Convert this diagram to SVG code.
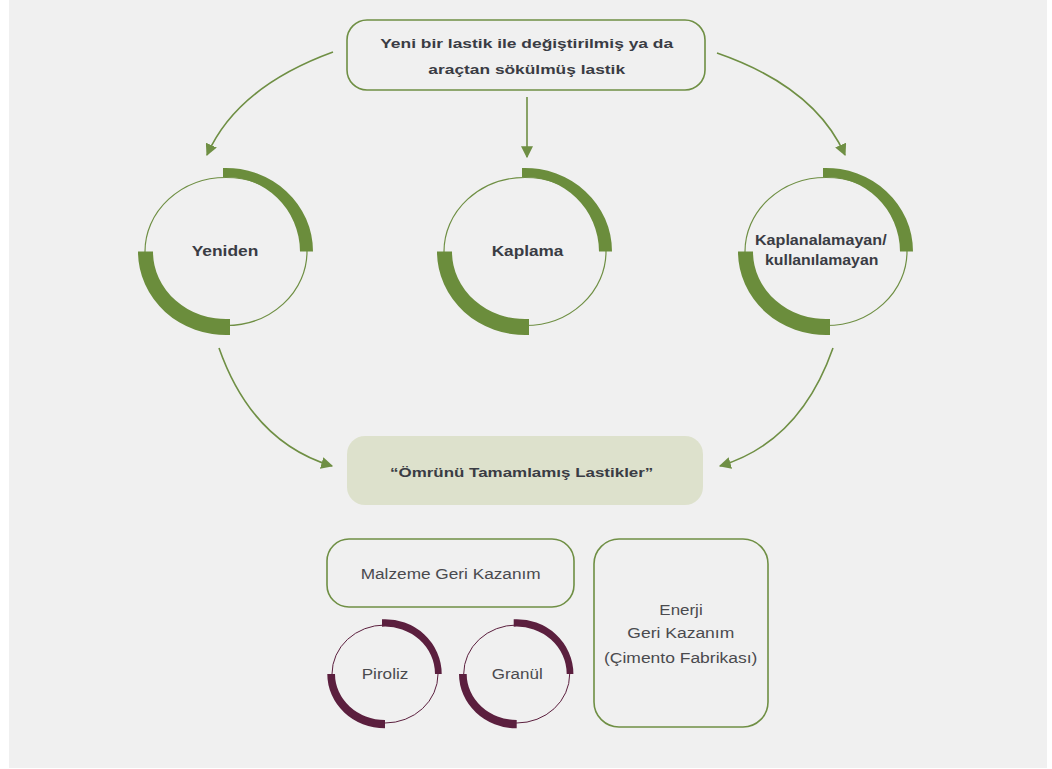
<svg xmlns="http://www.w3.org/2000/svg" xmlns:xlink="http://www.w3.org/1999/xlink" width="1052" height="769" viewBox="0 0 1052 769">
<style>
.box{fill:none;stroke:#6f8f44;stroke-width:1.6}
.fbox{fill:#dde1cc;stroke:none}
.conn{fill:none;stroke:#6f8f44;stroke-width:1.6}
.thin{fill:none;stroke:#6f8f44;stroke-width:1.2}
.thick{fill:#6b8d3c;stroke:none}
.pthin{fill:none;stroke:#5b1f3e;stroke-width:1}
.pthick{fill:#5b1f3e;stroke:none}
.b{font-family:"Liberation Sans",Arial,sans-serif;font-weight:bold;font-size:13.5px;fill:#3a3c44;text-anchor:middle}
.c{font-size:14px}
.r{font-family:"Liberation Sans",Arial,sans-serif;font-size:14px;fill:#4a4a4e;text-anchor:middle}
</style>
<defs>
<marker id="ah" viewBox="0 0 10 10" refX="9" refY="5" markerWidth="7.5" markerHeight="7.5" orient="auto" markerUnits="strokeWidth">
<path d="M0,0 L10,5 L0,10 Z" fill="#6f8f44"/>
</marker>
<g id="ring">
<ellipse cx="0" cy="0" rx="81" ry="74" class="thin"/>
<path class="thick" d="M -3,-83.5 A 87 83.5 0 0 1 87,0 L 74,0 A 74 75 0 0 0 -3,-74.5 Z"/>
<path class="thick" d="M -88,0 A 88 83.5 0 0 0 4,83.5 L 4,67.5 A 73 67.5 0 0 1 -73,0 Z"/>
</g>
<g id="pring">
<ellipse cx="0" cy="0" rx="53" ry="49" class="pthin"/>
<path class="pthick" d="M -3,-54.7 A 56.7 54.7 0 0 1 56.7,0 L 50,0 A 50 47.3 0 0 0 -3,-47.3 Z"/>
<path class="pthick" d="M -57.7,0 A 57.7 54.3 0 0 0 0,54.3 L 0,46 A 50 46 0 0 1 -50,0 Z"/>
</g>
</defs>
<rect x="0" y="0" width="1052" height="769" fill="#ffffff"/>
<rect x="9" y="0" width="1038" height="768" fill="#f0f0f0"/>

<g id="connectors">
<path class="conn" d="M 333,52 Q 237,87 207,155" marker-end="url(#ah)"/>
<path class="conn" d="M 527,97 L 527,157" marker-end="url(#ah)"/>
<path class="conn" d="M 717,53 Q 815,87 845,155" marker-end="url(#ah)"/>
<path class="conn" d="M 219,348 Q 252,442 332,466" marker-end="url(#ah)"/>
<path class="conn" d="M 833,348 Q 800,442 720,466" marker-end="url(#ah)"/>
</g>

<g id="top">
<rect class="box" x="347" y="20" width="358" height="70" rx="20"/>
<text class="b" x="526.7" y="47.5" textLength="293" lengthAdjust="spacingAndGlyphs">Yeni bir lastik ile değiştirilmiş ya da</text>
<text class="b" x="526.7" y="73.5" textLength="196.7" lengthAdjust="spacingAndGlyphs">araçtan sökülmüş lastik</text>
</g>

<g id="yeniden">
<use xlink:href="#ring" href="#ring" x="226" y="251.5"/>
<text class="b c" x="225" y="256" textLength="66.7" lengthAdjust="spacingAndGlyphs">Yeniden</text>
</g>

<g id="kaplama">
<use xlink:href="#ring" href="#ring" x="525" y="251.5"/>
<text class="b c" x="527.5" y="256" textLength="71.7" lengthAdjust="spacingAndGlyphs">Kaplama</text>
</g>

<g id="kaplanalamayan">
<use xlink:href="#ring" href="#ring" x="826" y="251.5"/>
<text class="b c" x="820.8" y="245" textLength="131.7" lengthAdjust="spacingAndGlyphs">Kaplanalamayan/</text>
<text class="b c" x="821.7" y="265" textLength="113.3" lengthAdjust="spacingAndGlyphs">kullanılamayan</text>
</g>

<g id="omrunu">
<rect class="fbox" x="347" y="436" width="356" height="69" rx="18"/>
<text class="b" x="521.7" y="477" textLength="263.3" lengthAdjust="spacingAndGlyphs">“Ömrünü Tamamlamış Lastikler”</text>
</g>

<g id="malzeme">
<rect class="box" x="327" y="539" width="247" height="68" rx="22"/>
<text class="r" x="450.7" y="579.3" textLength="180" lengthAdjust="spacingAndGlyphs">Malzeme Geri Kazanım</text>
</g>

<g id="enerji">
<rect class="box" x="594" y="539" width="174" height="188" rx="25"/>
<text class="r" x="681" y="615" textLength="43.3" lengthAdjust="spacingAndGlyphs">Enerji</text>
<text class="r" x="680.8" y="638.3" textLength="107" lengthAdjust="spacingAndGlyphs">Geri Kazanım</text>
<text class="r" x="680.7" y="663" textLength="153.3" lengthAdjust="spacingAndGlyphs">(Çimento Fabrikası)</text>
</g>

<g id="piroliz">
<use xlink:href="#pring" href="#pring" x="385" y="674"/>
<text class="r" x="385" y="679" textLength="46.7" lengthAdjust="spacingAndGlyphs">Piroliz</text>
</g>

<g id="granul">
<use xlink:href="#pring" href="#pring" x="516.7" y="674"/>
<text class="r" x="517.2" y="679" textLength="51" lengthAdjust="spacingAndGlyphs">Granül</text>
</g>
</svg>
